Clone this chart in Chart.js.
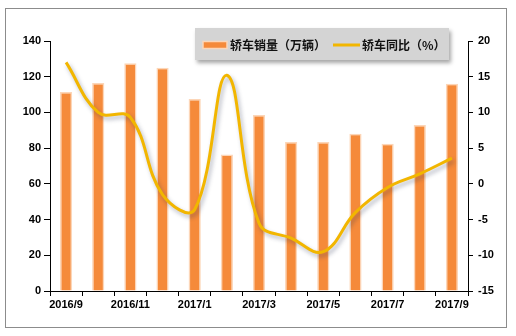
<!DOCTYPE html>
<html>
<head>
<meta charset="utf-8">
<script src="https://cdn.jsdelivr.net/npm/chart.js@4"></script>
<style>
  html, body { margin: 0; padding: 0; background: #fff; }
  #wrap { width: 516px; height: 336px; }
</style>
</head>
<body>
<div id="wrap"><canvas id="salesChart" width="516" height="336"></canvas></div>
<script>
let months = ["2016/9","2016/10","2016/11","2016/12","2017/1","2017/2","2017/3","2017/4","2017/5","2017/6","2017/7","2017/8","2017/9"];
let sales = [111.5, 116.5, 127.5, 125, 107.5, 76.5, 98.5, 83.5, 83.5, 88, 82.5, 93, 116];
let yoy = [17, 10, 9.3, -1.5, -3.6, 15.2, -5.5, -7.6, -9.5, -4, -0.5, 1.4, 3.6];

let salesLabel = "轿车销量（万辆）";
let yoyLabel = "轿车同比（%）";

let tickFont = { family: "'Liberation Sans', Arial, sans-serif", size: 11, weight: "bold" };

// white panel with thin grey frame
const framePlugin = {
    id: "frame",
    beforeDraw(chart){
        let ctx = chart.ctx;
        ctx.save();
        ctx.fillStyle = "#fff";
        ctx.fillRect(0, 0, chart.width, chart.height);
        ctx.strokeStyle = "#8c8c8c";
        ctx.lineWidth = 1;
        ctx.strokeRect(5.5, 8.5, 501, 319);
        ctx.restore();
    }
};

// soft shadow under the yoy curve
const lineShadow = {
    id: "lineShadow",
    beforeDatasetDraw(chart, args){
        if(args.meta.type !== "line") return;
        let ctx = chart.ctx;
        ctx.save();
        ctx.shadowColor = "rgba(40,50,80,0.35)";
        ctx.shadowBlur = 4;
        ctx.shadowOffsetX = 2;
        ctx.shadowOffsetY = 3;
    },
    afterDatasetDraw(chart, args){
        if(args.meta.type !== "line") return;
        chart.ctx.restore();
    }
};

// grey legend box drawn over the top of the plot
const boxLegend = {
    id: "boxLegend",
    afterDraw(chart){
        let ctx = chart.ctx;
        let x = 195, y = 28, w = 254, h = 32;
        ctx.save();
        ctx.shadowColor = "rgba(0,0,0,0.35)";
        ctx.shadowBlur = 4;
        ctx.shadowOffsetX = 2;
        ctx.shadowOffsetY = 3;
        ctx.fillStyle = "#d4d4d4";
        ctx.fillRect(x, y, w, h);
        ctx.restore();

        ctx.save();
        let midY = y + h / 2 + 1;
        // bar swatch
        ctx.fillStyle = "#f58a3a";
        ctx.fillRect(203, midY - 3.5, 24, 7);
        ctx.strokeStyle = "#fcd6b8";
        ctx.lineWidth = 1.5;
        ctx.strokeRect(203, midY - 3.5, 24, 7);
        // line swatch
        ctx.strokeStyle = "#f2b600";
        ctx.lineWidth = 3;
        ctx.beginPath();
        ctx.moveTo(333, midY);
        ctx.lineTo(360, midY);
        ctx.stroke();

        ctx.fillStyle = "#111";
        ctx.font = "bold 12px 'Noto Sans CJK SC', sans-serif";
        ctx.textBaseline = "middle";
        ctx.fillText(chart.data.datasets[1].label, 230, midY);
        ctx.fillText(chart.data.datasets[0].label, 362, midY);
        ctx.restore();
    }
};

let ctx = document.getElementById("salesChart");

new Chart(ctx, {
    data: {
        labels: months,
        datasets: [
            {
                type: "line",
                label: yoyLabel,
                data: yoy,
                yAxisID: "y1",
                borderColor: "#f2b600",
                borderWidth: 3,
                pointRadius: 0,
                tension: 0.4,
                fill: false,
                order: 0
            },
            {
                type: "bar",
                label: salesLabel,
                data: sales,
                yAxisID: "y",
                backgroundColor: "#f58a3a",
                borderColor: "#fcd6b8",
                borderWidth: 1.5,
                barPercentage: 0.38,
                categoryPercentage: 1,
                order: 1
            }
        ]
    },
    options: {
        responsive: false,
        animation: false,
        layout: { padding: { top: 41, left: 0, right: 0, bottom: 0 } },
        plugins: {
            legend: { display: false },
            tooltip: { enabled: false }
        },
        scales: {
            x: {
                offset: true,
                grid: { offset: true, drawOnChartArea: false, color: "#000", tickLength: 5 },
                border: { color: "#000", width: 1 },
                ticks: {
                    autoSkip: false,
                    maxRotation: 0,
                    color: "#000",
                    font: tickFont,
                    padding: 2,
                    callback: function(val, i){
                        return i % 2 === 0 ? this.getLabelForValue(val) : "";
                    }
                },
                afterFit(scale){ scale.height = 45; }
            },
            y: {
                position: "left",
                min: 0,
                max: 140,
                ticks: { stepSize: 20, color: "#000", font: tickFont, padding: 3 },
                grid: { drawOnChartArea: false, color: "#000", tickLength: 6 },
                border: { color: "#000", width: 1 },
                afterFit(scale){ scale.width = 50; }
            },
            y1: {
                position: "right",
                min: -15,
                max: 20,
                ticks: { stepSize: 5, color: "#000", font: tickFont, padding: 5 },
                grid: { drawOnChartArea: false, color: "#000", tickLength: 5 },
                border: { color: "#000", width: 1 },
                afterFit(scale){ scale.width = 48; }
            }
        }
    },
    plugins: [framePlugin, lineShadow, boxLegend]
});
</script>
</body>
</html>
